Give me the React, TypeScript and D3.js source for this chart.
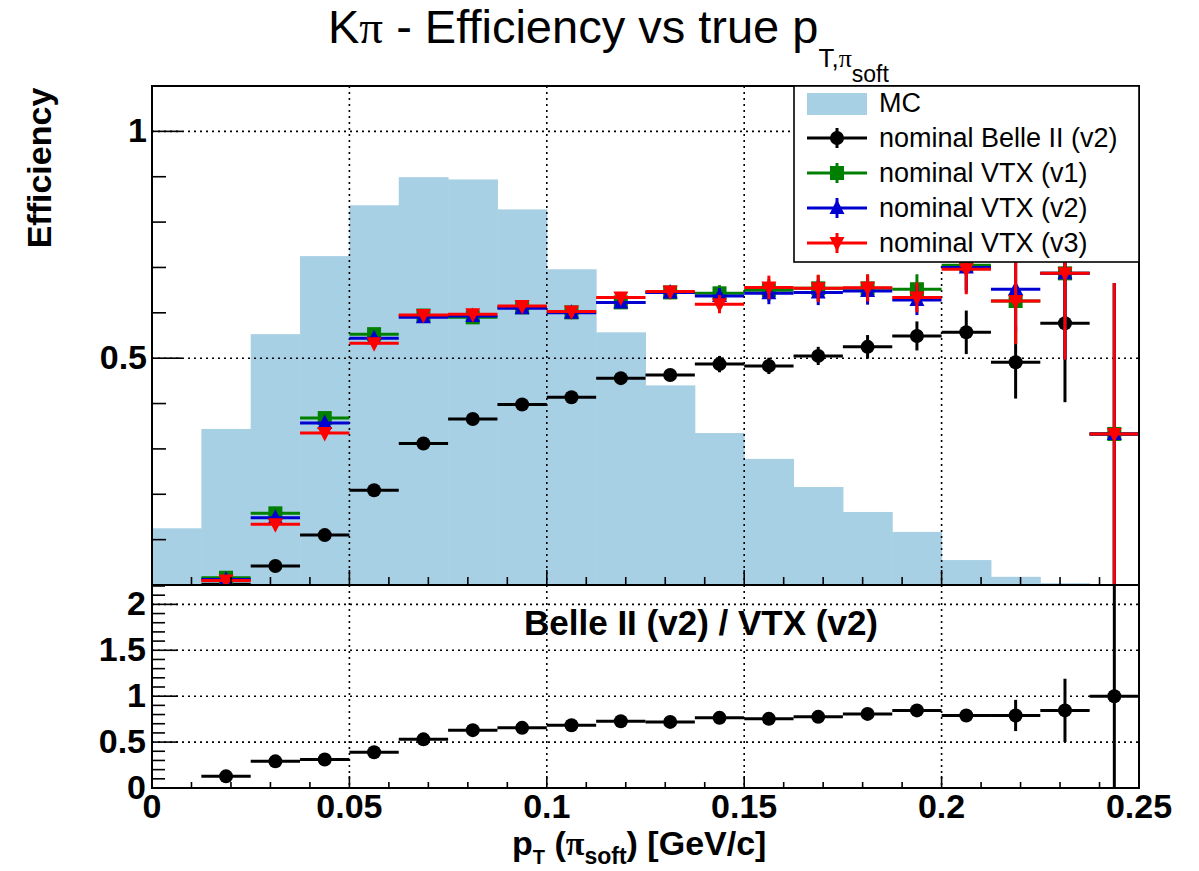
import React from 'react';
import * as d3 from 'd3';

// ---------- data ----------
const binLow = [0, 0.0125, 0.025, 0.0375, 0.05, 0.0625, 0.075, 0.0875, 0.1, 0.1125, 0.125, 0.1375, 0.15, 0.1625, 0.175, 0.1875, 0.2, 0.2125, 0.225, 0.2375];
const binWidth = 0.0125;
const mcShape = [0.125, 0.344, 0.553, 0.725, 0.837, 0.899, 0.894, 0.828, 0.696, 0.557, 0.44, 0.335, 0.278, 0.216, 0.161, 0.117, 0.055, 0.018, 0.004, 0.0];
const belleV2 = [null, 0.0015, 0.042, 0.11, 0.209, 0.312, 0.366, 0.398, 0.414, 0.456, 0.463, 0.487, 0.483, 0.505, 0.525, 0.549, 0.557, 0.491, 0.577, 0.333];
const belleV2Err = [0, 0.002, 0.005, 0.007, 0.008, 0.009, 0.009, 0.01, 0.01, 0.011, 0.012, 0.018, 0.018, 0.02, 0.026, 0.032, 0.048, 0.08, 0.174, 0.333];
const vtxV1 = [null, 0.016, 0.158, 0.368, 0.553, 0.594, 0.59, 0.612, 0.601, 0.623, 0.645, 0.643, 0.65, 0.654, 0.654, 0.652, 0.705, 0.626, 0.687, 0.333];
const vtxV1Err = [0, 0.004, 0.008, 0.01, 0.01, 0.01, 0.01, 0.01, 0.01, 0.011, 0.012, 0.018, 0.024, 0.028, 0.03, 0.033, 0.055, 0.095, 0.19, 0.333];
const vtxV2 = [null, 0.012, 0.148, 0.357, 0.544, 0.59, 0.593, 0.61, 0.6, 0.623, 0.645, 0.637, 0.643, 0.645, 0.648, 0.628, 0.7, 0.652, 0.687, 0.333];
const vtxV2Err = [0, 0.004, 0.008, 0.01, 0.01, 0.01, 0.01, 0.01, 0.01, 0.011, 0.012, 0.018, 0.024, 0.028, 0.03, 0.033, 0.055, 0.095, 0.19, 0.333];
const vtxV3 = [null, 0.01, 0.134, 0.335, 0.533, 0.595, 0.597, 0.615, 0.603, 0.634, 0.647, 0.619, 0.656, 0.654, 0.655, 0.634, 0.696, 0.626, 0.687, 0.333];
const vtxV3Err = [0, 0.004, 0.008, 0.01, 0.01, 0.01, 0.01, 0.01, 0.01, 0.011, 0.012, 0.02, 0.026, 0.03, 0.03, 0.033, 0.055, 0.095, 0.19, 0.333];
const ratioVal = [null, 0.127, 0.29, 0.31, 0.39, 0.53, 0.63, 0.655, 0.684, 0.727, 0.72, 0.764, 0.753, 0.775, 0.807, 0.845, 0.79, 0.79, 0.845, 1.0];
const ratioErr = [0, 0.02, 0.02, 0.02, 0.02, 0.02, 0.02, 0.02, 0.02, 0.02, 0.025, 0.03, 0.03, 0.03, 0.04, 0.05, 0.06, 0.17, 0.345, 1.41];

const xTickVals = [0, 0.05, 0.1, 0.15, 0.2, 0.25];
const xTickLabels = ['0', '0.05', '0.1', '0.15', '0.2', '0.25'];
const effTickVals = [0.5, 1];
const effTickLabels = ['0.5', '1'];
const ratioTickVals = [0, 0.5, 1, 1.5, 2];
const ratioTickLabels = ['0', '0.5', '1', '1.5', '2'];
const legendLabels = ['MC', 'nominal Belle II (v2)', 'nominal VTX (v1)', 'nominal VTX (v2)', 'nominal VTX (v3)'];

// ---------- styling ----------
const FONT = '"Liberation Sans", Arial, Helvetica, sans-serif';
const SERIF = '"Liberation Serif", "DejaVu Serif", serif';
const MC_COLOR = '#a8d0e4';
const GREEN = '#008000';
const BLUE = '#0000d0';
const RED = '#ff0000';

const W = 1199;
const H = 871;
const L = 152, R = 1139, TOP = 86, MID = 585, BOT = 788;

const x = d3.scaleLinear().domain([0, 0.25]).range([L, R]);
const yTop = d3.scaleLinear().domain([0, 1.1]).range([MID, TOP]);
const yBot = d3.scaleLinear().domain([0, 2.2]).range([BOT, MID + 1]);

type Shape = 'circle' | 'square' | 'tup' | 'tdown';

function Marker({ shape, cx, cy, color }: { shape: Shape; cx: number; cy: number; color: string }) {
  if (shape === 'circle') return <circle cx={cx} cy={cy} r={7} fill={color} />;
  if (shape === 'square') return <rect x={cx - 7} y={cy - 7} width={14} height={14} fill={color} />;
  if (shape === 'tup')
    return <polygon points={`${cx},${cy - 8.5} ${cx - 7.5},${cy + 6} ${cx + 7.5},${cy + 6}`} fill={color} />;
  return <polygon points={`${cx},${cy + 8.5} ${cx - 7.5},${cy - 6} ${cx + 7.5},${cy - 6}`} fill={color} />;
}

function Series({ vals, errs, y, color, shape }: { vals: (number | null)[]; errs: number[]; y: d3.ScaleLinear<number, number>; color: string; shape: Shape }) {
  return (
    <g>
      {vals.map((v, i) => {
        if (v === null) return null;
        const lo = binLow[i];
        const cx = x(lo + binWidth / 2);
        const cy = y(v);
        const e = errs[i];
        return (
          <g key={i}>
            <line x1={x(lo)} x2={x(lo + binWidth)} y1={cy} y2={cy} stroke={color} strokeWidth={3} />
            <line x1={cx} x2={cx} y1={y(Math.max(0, v - e))} y2={y(v + e)} stroke={color} strokeWidth={3} />
            <Marker shape={shape} cx={cx} cy={cy} color={color} />
          </g>
        );
      })}
    </g>
  );
}

function Grid({ y, yVals, top, bottom }: { y: d3.ScaleLinear<number, number>; yVals: number[]; top: number; bottom: number }) {
  const dash = '2,4';
  return (
    <g stroke="#000" strokeWidth={1.6} strokeDasharray={dash}>
      {[0.05, 0.1, 0.15, 0.2].map((v) => (
        <line key={'gx' + v} x1={x(v)} x2={x(v)} y1={top} y2={bottom} />
      ))}
      {yVals.map((v) => (
        <line key={'gy' + v} x1={L} x2={R} y1={y(v)} y2={y(v)} />
      ))}
    </g>
  );
}

export default function App() {
  const xMinor = d3.range(0.01, 0.25, 0.01).filter((v) => Math.abs(v / 0.05 - Math.round(v / 0.05)) > 1e-6);
  const xMajor = [0.05, 0.1, 0.15, 0.2];
  const topMinor = d3.range(0.1, 1.1001, 0.1).filter((v) => Math.abs(v / 0.5 - Math.round(v / 0.5)) > 1e-6);
  const botMinor = d3.range(0.1, 2.2001, 0.1).filter((v) => Math.abs(v / 0.5 - Math.round(v / 0.5)) > 1e-6);

  const legendY = [103, 138, 173, 208, 243];
  const legendSeries: { color: string; shape: Shape }[] = [
    { color: '#000', shape: 'circle' },
    { color: GREEN, shape: 'square' },
    { color: BLUE, shape: 'tup' },
    { color: RED, shape: 'tdown' },
  ];

  return (
    <svg width={W} height={H} style={{ position: 'absolute', left: 0, top: 0, background: '#fff' }} fontFamily={FONT}>
      <defs>
        <clipPath id="clipTop">
          <rect x={L} y={TOP} width={R - L} height={MID - TOP} />
        </clipPath>
        <clipPath id="clipBot">
          <rect x={L} y={MID} width={R - L} height={BOT - MID} />
        </clipPath>
      </defs>
      <rect x={0} y={0} width={W} height={H} fill="#fff" />

      {/* Title */}
      <text x={328} y={43} fontSize={47} fill="#000">
        K<tspan fontFamily={SERIF}>π</tspan> - Efficiency vs true p
        <tspan dy={24} fontSize={26}>T,</tspan>
        <tspan fontSize={26} fontFamily={SERIF}>π</tspan>
        <tspan dy={15} fontSize={23}>soft</tspan>
      </text>

      {/* ---------- top panel ---------- */}
      <g clipPath="url(#clipTop)">
        {mcShape.map((v, i) => (
          <rect key={i} x={x(binLow[i])} width={x(binLow[i] + binWidth) - x(binLow[i]) + 0.5} y={yTop(v)} height={MID - yTop(v)} fill={MC_COLOR} />
        ))}
        <Grid y={yTop} yVals={[0.5, 1]} top={TOP} bottom={MID} />
        <Series vals={belleV2} errs={belleV2Err} y={yTop} color="#000" shape="circle" />
        <Series vals={vtxV1} errs={vtxV1Err} y={yTop} color={GREEN} shape="square" />
        <Series vals={vtxV2} errs={vtxV2Err} y={yTop} color={BLUE} shape="tup" />
        <Series vals={vtxV3} errs={vtxV3Err} y={yTop} color={RED} shape="tdown" />
      </g>
      {/* top ticks */}
      <g stroke="#000" strokeWidth={1.6}>
        {[0, 0.5, 1].map((v) => (
          <line key={'tM' + v} x1={L} x2={L + 30} y1={yTop(v)} y2={yTop(v)} />
        ))}
        {topMinor.map((v) => (
          <line key={'tm' + v} x1={L} x2={L + 14} y1={yTop(v)} y2={yTop(v)} />
        ))}
        {xMajor.map((v) => (
          <line key={'txM' + v} x1={x(v)} x2={x(v)} y1={MID} y2={MID - 15} />
        ))}
        {xMinor.map((v) => (
          <line key={'txm' + v} x1={x(v)} x2={x(v)} y1={MID} y2={MID - 8} />
        ))}
      </g>
      <rect x={L} y={TOP} width={R - L} height={MID - TOP} fill="none" stroke="#000" strokeWidth={2} />
      {effTickVals.map((v, i) => (
        <text key={'el' + v} x={147} y={yTop(v) + 11} fontSize={34} fontWeight="bold" textAnchor="end">
          {effTickLabels[i]}
        </text>
      ))}
      <text transform="translate(51,168) rotate(-90)" fontSize={34} fontWeight="bold" textAnchor="middle">
        Efficiency
      </text>

      {/* legend */}
      <g>
        <rect x={794} y={TOP} width={R - 794} height={262 - TOP} fill="#fff" stroke="#000" strokeWidth={1.6} />
        <rect x={807} y={93} width={60} height={22} fill={MC_COLOR} />
        {legendSeries.map((s, i) => {
          const cy = legendY[i + 1];
          return (
            <g key={'lg' + i}>
              <line x1={807} x2={867} y1={cy} y2={cy} stroke={s.color} strokeWidth={3} />
              <line x1={837} x2={837} y1={cy - 10} y2={cy + 10} stroke={s.color} strokeWidth={3} />
              <Marker shape={s.shape} cx={837} cy={cy} color={s.color} />
            </g>
          );
        })}
        {legendLabels.map((t, i) => (
          <text key={'lt' + i} x={879} y={legendY[i] + 9} fontSize={27}>
            {t}
          </text>
        ))}
      </g>

      {/* ---------- bottom panel ---------- */}
      <g clipPath="url(#clipBot)">
        <Grid y={yBot} yVals={[0.5, 1, 1.5, 2]} top={MID} bottom={BOT} />
        <Series vals={ratioVal} errs={ratioErr} y={yBot} color="#000" shape="circle" />
      </g>
      <g stroke="#000" strokeWidth={1.6}>
        {ratioTickVals.map((v) => (
          <line key={'bM' + v} x1={L} x2={L + 26} y1={yBot(v)} y2={yBot(v)} />
        ))}
        {botMinor.map((v) => (
          <line key={'bm' + v} x1={L} x2={L + 13} y1={yBot(v)} y2={yBot(v)} />
        ))}
        {xMajor.map((v) => (
          <line key={'bxM' + v} x1={x(v)} x2={x(v)} y1={BOT} y2={BOT - 12} />
        ))}
        {xMinor.map((v) => (
          <line key={'bxm' + v} x1={x(v)} x2={x(v)} y1={BOT} y2={BOT - 6} />
        ))}
      </g>
      <rect x={L} y={MID} width={R - L} height={BOT - MID} fill="none" stroke="#000" strokeWidth={2} />
      {ratioTickVals.map((v, i) => (
        <text key={'rl' + v} x={146} y={yBot(v) + 11} fontSize={34} fontWeight="bold" textAnchor="end">
          {ratioTickLabels[i]}
        </text>
      ))}
      {xTickVals.map((v, i) => (
        <text key={'xl' + v} x={x(v)} y={818} fontSize={34} fontWeight="bold" textAnchor="middle">
          {xTickLabels[i]}
        </text>
      ))}
      <text x={524} y={635} fontSize={35} fontWeight="bold">
        Belle II (v2) / VTX (v2)
      </text>

      {/* x title */}
      <text x={512} y={855} fontSize={34} fontWeight="bold">
        p<tspan dy={9} fontSize={20}>T</tspan>
        <tspan dy={-9}> (</tspan>
        <tspan fontFamily={SERIF}>π</tspan>
        <tspan dy={9} fontSize={23}>soft</tspan>
        <tspan dy={-9}>) [GeV/c]</tspan>
      </text>
    </svg>
  );
}
